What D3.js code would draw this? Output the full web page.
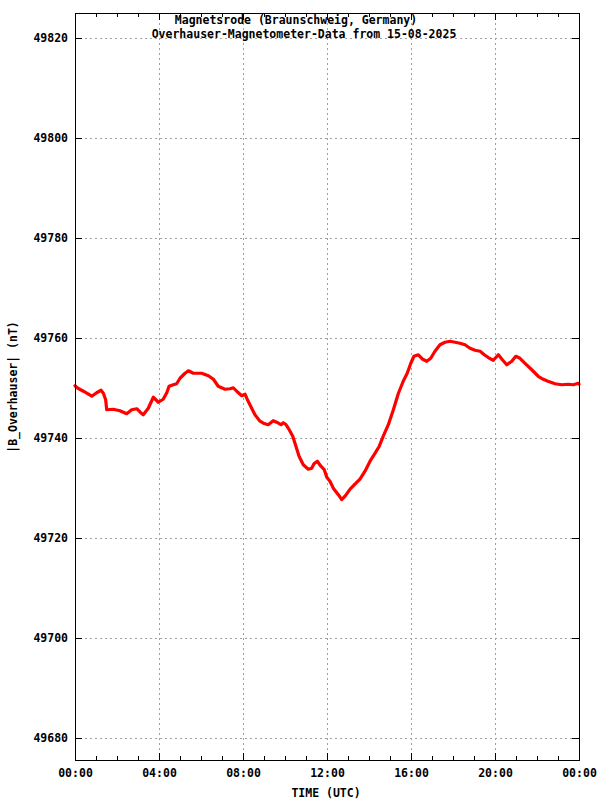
<!DOCTYPE html>
<html>
<head>
<meta charset="utf-8">
<script src="https://cdn.jsdelivr.net/npm/d3@7"></script>
<style>
  html, body { margin: 0; padding: 0; background: #fff; }
  svg { display: block; }
  text { font-family: "DejaVu Sans Mono", "Liberation Mono", monospace; font-weight: bold; font-size: 11.5px; fill: #000; }
</style>
</head>
<body>
<svg id="chart" width="600" height="800"></svg>
<script>
// ---- data ----
const titleLines = ["Magnetsrode (Braunschweig, Germany)", "Overhauser-Magnetometer-Data from 15-08-2025"];
const xLabel = "TIME (UTC)";
const yLabel = "|B_Overhauser| (nT)";
const xTickHours = [0, 4, 8, 12, 16, 20, 24];
const xTickLabels = ["00:00", "04:00", "08:00", "12:00", "16:00", "20:00", "00:00"];
const xMinorHours = [1,2,3,5,6,7,9,10,11,13,14,15,17,18,19,21,22,23];
const yTicks = [49680, 49700, 49720, 49740, 49760, 49780, 49800, 49820];
const yDomain = [49675.5, 49825];

const hours = [0.00,0.10,0.40,0.80,1.03,1.24,1.35,1.46,1.51,1.82,2.14,2.46,2.70,2.94,3.13,3.25,3.49,3.73,3.97,4.20,
  4.37,4.48,4.68,4.84,5.00,5.24,5.40,5.63,5.87,6.03,6.35,6.59,6.82,7.14,7.38,7.54,7.70,7.94,8.10,8.20,
  8.33,8.57,8.81,8.97,9.20,9.44,9.60,9.81,9.92,10.03,10.20,10.37,10.52,10.67,10.87,11.11,11.27,11.38,11.54,11.71,
  11.87,11.99,12.14,12.30,12.54,12.70,12.86,13.10,13.33,13.57,13.81,14.05,14.29,14.49,14.68,14.92,15.16,15.40,15.63,15.82,
  15.99,16.14,16.35,16.56,16.75,16.94,17.14,17.38,17.62,17.86,18.10,18.33,18.57,18.81,19.05,19.29,19.49,19.73,19.92,20.16,
  20.35,20.56,20.80,20.99,21.19,21.43,21.75,22.06,22.30,22.52,22.86,23.18,23.49,23.73,23.97,24.00];
const values = [49750.4,49750.0,49749.3,49748.3,49749.0,49749.5,49748.9,49747.6,49745.6,49745.7,49745.4,49744.8,49745.6,49745.8,49745.0,49744.6,49745.9,49748.1,49747.1,49747.7,
  49749.0,49750.3,49750.6,49750.8,49751.9,49752.9,49753.4,49752.9,49752.9,49752.9,49752.4,49751.7,49750.3,49749.7,49749.8,49750.0,49749.3,49748.4,49748.7,49747.7,
  49746.6,49744.6,49743.3,49742.9,49742.6,49743.4,49743.1,49742.6,49743.0,49742.7,49741.6,49740.3,49738.3,49736.3,49734.6,49733.7,49733.9,49734.8,49735.3,49734.3,
  49733.6,49732.1,49731.3,49729.9,49728.6,49727.6,49728.3,49729.7,49730.7,49731.7,49733.3,49735.3,49736.9,49738.3,49740.3,49742.6,49745.6,49748.9,49751.3,49752.9,
  49754.9,49756.3,49756.6,49755.7,49755.3,49755.9,49757.3,49758.6,49759.1,49759.3,49759.1,49758.9,49758.6,49757.9,49757.5,49757.3,49756.6,49755.9,49755.5,49756.6,
  49755.6,49754.6,49755.3,49756.3,49755.9,49754.9,49753.6,49752.3,49751.7,49751.3,49750.8,49750.6,49750.7,49750.6,49750.9,49750.7,49750.3,49750.2];

// ---- layout ----
const L = 75, R = 579, T = 13, B = 760;
const svg = d3.select("#chart");
const x = d3.scaleLinear().domain([0, 24]).range([L, R]);
const y = d3.scaleLinear().domain(yDomain).range([B, T]);

// grid
const grid = svg.append("g").attr("stroke", "#a0a0a0").attr("stroke-width", 1)
  .attr("stroke-dasharray", "2,3").attr("shape-rendering", "crispEdges");
grid.selectAll("line.gx").data(xTickHours.slice(1, -1)).join("line")
  .attr("x1", d => Math.round(x(d)) + 0.5).attr("x2", d => Math.round(x(d)) + 0.5)
  .attr("y1", T).attr("y2", B);
grid.selectAll("line.gy").data(yTicks).join("line")
  .attr("y1", d => Math.round(y(d)) + 0.5).attr("y2", d => Math.round(y(d)) + 0.5)
  .attr("x1", L).attr("x2", R);

// data line
const line = d3.line().x((d, i) => x(hours[i])).y(d => y(d));
svg.append("path").datum(values)
  .attr("d", line)
  .attr("fill", "none").attr("stroke", "#ff0000").attr("stroke-width", 3.2)
  .attr("stroke-linejoin", "round").attr("stroke-linecap", "round");

// axes
function styleAxis(g) {
  g.select(".domain").remove();
  g.selectAll("line").attr("stroke", "#000").attr("shape-rendering", "crispEdges");
  g.selectAll("text").attr("font-family", null).attr("font-size", null);
  g.attr("font-family", null).attr("font-size", null);
}
svg.append("g").attr("transform", `translate(0,${B})`)
  .call(d3.axisBottom(x).tickValues(xTickHours).tickSize(-7).tickPadding(9)
    .tickFormat((d, i) => xTickLabels[i])).call(styleAxis);
svg.append("g").attr("transform", `translate(0,${B})`)
  .call(d3.axisBottom(x).tickValues(xMinorHours).tickSize(-4).tickFormat("")).call(styleAxis);
svg.append("g").attr("transform", `translate(0,${T})`)
  .call(d3.axisTop(x).tickValues(xTickHours).tickSize(-7).tickFormat("")).call(styleAxis);
svg.append("g").attr("transform", `translate(0,${T})`)
  .call(d3.axisTop(x).tickValues(xMinorHours).tickSize(-4).tickFormat("")).call(styleAxis);
svg.append("g").attr("transform", `translate(${L},0)`)
  .call(d3.axisLeft(y).tickValues(yTicks).tickSize(-7).tickPadding(7).tickFormat(d3.format("d"))).call(styleAxis);
svg.append("g").attr("transform", `translate(${R},0)`)
  .call(d3.axisRight(y).tickValues(yTicks).tickSize(-7).tickFormat("")).call(styleAxis);

// frame
svg.append("rect").attr("x", L + 0.5).attr("y", T + 0.5).attr("width", R - L).attr("height", B - T)
  .attr("fill", "none").attr("stroke", "#000").attr("stroke-width", 1).attr("shape-rendering", "crispEdges");

// titles
svg.append("text").attr("x", 296).attr("y", 24).attr("text-anchor", "middle").text(titleLines[0]);
svg.append("text").attr("x", 304).attr("y", 38).attr("text-anchor", "middle").text(titleLines[1]);
svg.append("text").attr("x", 326).attr("y", 797).attr("text-anchor", "middle").text(xLabel);
svg.append("text").attr("transform", "translate(17,387) rotate(-90)").attr("text-anchor", "middle").text(yLabel);
</script>
</body>
</html>
